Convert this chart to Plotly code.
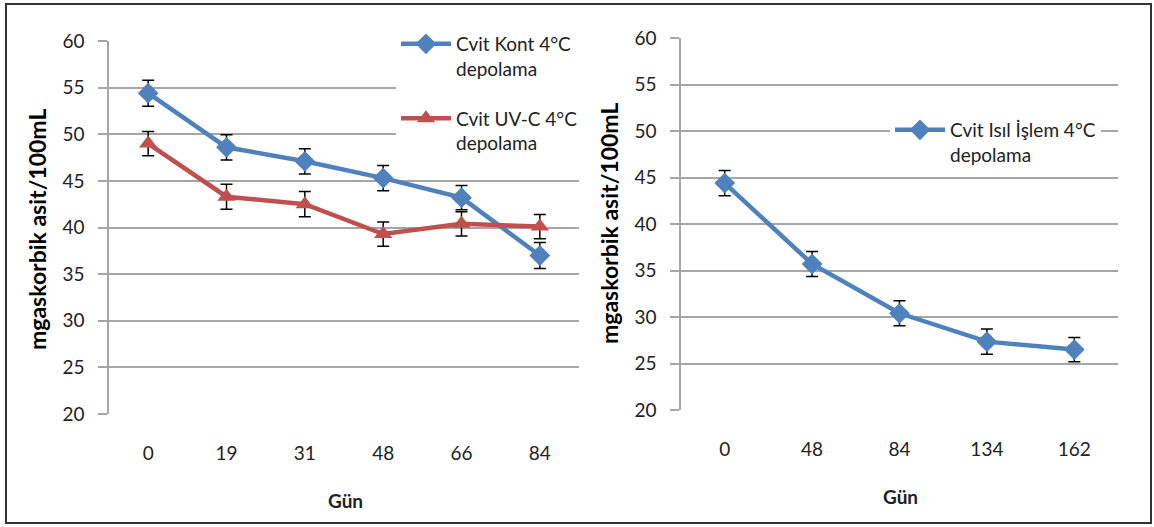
import plotly.graph_objects as go

# Storage days (category axes)
gun_left = ["0", "19", "31", "48", "66", "84"]
gun_right = ["0", "48", "84", "134", "162"]

# Vitamin C content, mg ascorbic acid / 100 mL
kont = [54.4, 48.6, 47.1, 45.3, 43.2, 37.0]
kont_err = [1.4, 1.35, 1.35, 1.35, 1.3, 1.4]
uvc = [49.0, 43.3, 42.5, 39.3, 40.4, 40.1]
uvc_err = [1.3, 1.35, 1.35, 1.3, 1.3, 1.3]
isil = [44.4, 35.7, 30.4, 27.35, 26.5]
isil_err = [1.35, 1.35, 1.35, 1.35, 1.3]

y_ticks = [20, 25, 30, 35, 40, 45, 50, 55, 60]

BLUE = "#4F81BD"
RED = "#C0504D"
GRID = "#a6a6a6"
FONT = "Lato, 'Open Sans', sans-serif"
W, H = 1154, 527

fig = go.Figure()

err_style = dict(type="data", color="black", thickness=1.5, width=6)

fig.add_trace(go.Scatter(
    x=gun_left, y=kont, name="Cvit Kont 4°C<br>depolama",
    mode="lines+markers", line=dict(color=BLUE, width=4.5),
    marker=dict(symbol="diamond", size=16, color=BLUE),
    error_y=dict(array=kont_err, **err_style),
    xaxis="x", yaxis="y", legend="legend", legendgroup="a"))
fig.add_trace(go.Scatter(
    x=gun_left, y=uvc, name="Cvit UV-C 4°C<br>depolama",
    mode="lines+markers", line=dict(color=RED, width=4.5),
    marker=dict(symbol="triangle-up", size=16, color=RED),
    error_y=dict(array=uvc_err, **err_style),
    xaxis="x", yaxis="y", legend="legend", legendgroup="b"))
fig.add_trace(go.Scatter(
    x=gun_right, y=isil, name="Cvit Isıl İşlem 4°C<br>depolama",
    mode="lines+markers", line=dict(color=BLUE, width=4.5),
    marker=dict(symbol="diamond", size=16, color=BLUE),
    error_y=dict(array=isil_err, **err_style),
    xaxis="x2", yaxis="y2", legend="legend2"))

def px_x(p):
    return p / W

def px_y(p):
    return 1 - p / H

tick_font = dict(family=FONT, size=19, color="#222")

xcommon = dict(type="category", showgrid=False, showline=False, zeroline=False,
               ticks="outside", ticklen=22, tickcolor="rgba(0,0,0,0)",
               tickfont=tick_font)
ycommon = dict(range=[20, 60], tickvals=y_ticks, showgrid=True, gridcolor=GRID,
               gridwidth=1.5, showline=True, linecolor=GRID, linewidth=1.5,
               ticks="outside", ticklen=9, tickcolor=GRID, tickwidth=1.5,
               ticklabelstandoff=10, zeroline=False, tickfont=tick_font)

legend_font = dict(family=FONT, size=19, color="#222")

fig.update_layout(
    width=W, height=H,
    margin=dict(l=0, r=0, t=0, b=0, autoexpand=False),
    paper_bgcolor="white", plot_bgcolor="white",
    font=dict(family=FONT, color="#222"),
    xaxis=dict(domain=[px_x(109), px_x(579)], range=[-0.5, 5.5],
               anchor="y", **xcommon),
    yaxis=dict(domain=[px_y(414), px_y(41)], anchor="x", **ycommon),
    xaxis2=dict(domain=[px_x(681), px_x(1118)], range=[-0.5, 4.5],
                anchor="y2", **xcommon),
    yaxis2=dict(domain=[px_y(410), px_y(38)], anchor="x2", **ycommon),
    legend=dict(x=px_x(396), y=px_y(25), xanchor="left", yanchor="top",
                bgcolor="white", itemwidth=50, valign="top",
                tracegroupgap=22, traceorder="grouped", font=legend_font),
    legend2=dict(x=px_x(890), y=px_y(111), xanchor="left", yanchor="top",
                 bgcolor="white", itemwidth=50, valign="top",
                 font=legend_font),
    showlegend=True,
    annotations=[
        dict(text="<b>mgaskorbik asit/100mL</b>", x=px_x(37), y=px_y(230),
             xref="paper", yref="paper", xanchor="center", yanchor="middle",
             textangle=-90, showarrow=False,
             font=dict(family=FONT, size=23, color="black")),
        dict(text="<b>mgaskorbik asit/100mL</b>", x=px_x(609), y=px_y(224),
             xref="paper", yref="paper", xanchor="center", yanchor="middle",
             textangle=-90, showarrow=False,
             font=dict(family=FONT, size=23, color="black")),
        dict(text="<b>Gün</b>", x=px_x(345), y=px_y(500), xref="paper",
             yref="paper", xanchor="center", yanchor="middle", showarrow=False,
             font=dict(family=FONT, size=19, color="#222")),
        dict(text="<b>Gün</b>", x=px_x(900), y=px_y(496), xref="paper",
             yref="paper", xanchor="center", yanchor="middle", showarrow=False,
             font=dict(family=FONT, size=19, color="#222")),
    ],
    shapes=[dict(type="rect", xref="paper", yref="paper",
                 x0=px_x(6), x1=px_x(1151), y0=px_y(523), y1=px_y(4),
                 line=dict(color="#333", width=2))],
)

# The page body keeps no margin so the figure starts at the window corner.
fig.write_html(
    "out.html",
    post_script="document.body.style.margin='0';"
                "document.documentElement.style.overflow='hidden';"
                "document.body.style.overflow='hidden';",
)
